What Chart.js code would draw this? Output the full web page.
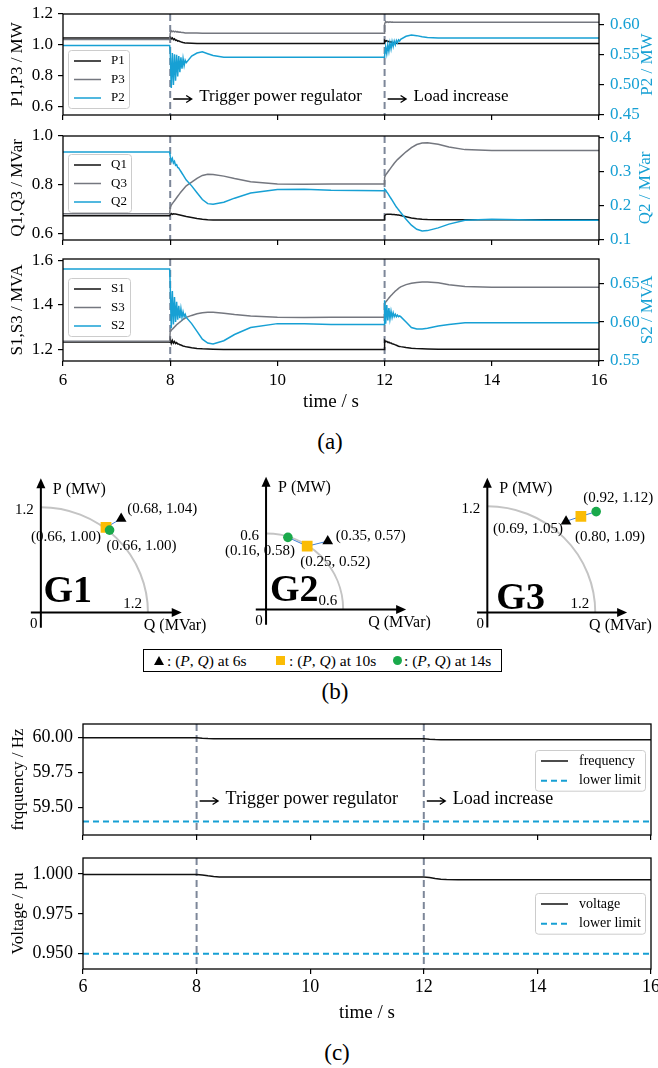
<!DOCTYPE html>
<html>
<head>
<meta charset="utf-8">
<title>Power regulator test</title>
<script src="https://cdn.jsdelivr.net/npm/chart.js@4.4.1/dist/chart.umd.min.js"></script>
<style>
  html, body { margin: 0; padding: 0; background: #fff; }
  body { position: relative; width: 658px; height: 1068px; overflow: hidden;
         font-family: 'Liberation Serif', 'Times New Roman', serif; color: #000; }
  canvas { position: absolute; }
  .cap { position: absolute; width: 60px; text-align: center; font-size: 23px; line-height: 24px; }
  #pqLegend { position: absolute; left: 143px; top: 649px; width: 357px; height: 21px;
              border: 1px solid #000; font-size: 15.5px; }
  #pqLegend .txt { position: absolute; top: 0; line-height: 21px; white-space: nowrap; }
  #pqLegend .mk { position: absolute; }
  .tri { top: 6px; width: 0; height: 0; border-left: 5px solid transparent;
         border-right: 5px solid transparent; border-bottom: 9px solid #000; }
  .sq { top: 6px; width: 9px; height: 9px; background: #fbbc05; }
  .dot { top: 6px; width: 9px; height: 9px; border-radius: 50%; background: #1aa94b; }
</style>
</head>
<body>
<canvas id="chartP"></canvas>
<canvas id="chartQ"></canvas>
<canvas id="chartS"></canvas>
<div class="cap" style="left:300px;top:430px">(a)</div>
<canvas id="chartG1"></canvas>
<canvas id="chartG2"></canvas>
<canvas id="chartG3"></canvas>
<div id="pqLegend"></div>
<div class="cap" style="left:305px;top:680px">(b)</div>
<canvas id="chartF"></canvas>
<canvas id="chartV"></canvas>
<div class="cap" style="left:307px;top:1041px">(c)</div>

<script>
// ─── panel (a): generator P, Q, S vs time ───────────────────────
const tA = [6, 7.99,
  8.00, 8.02, 8.04, 8.06, 8.08, 8.10, 8.12, 8.14, 8.16, 8.18, 8.20, 8.22, 8.24, 8.26, 8.28, 8.30,
  8.4, 8.5, 8.6, 8.7, 8.8, 9.0, 9.2, 9.5, 10, 10.5, 11, 11.99,
  12.00, 12.02, 12.04, 12.06, 12.08, 12.10, 12.12, 12.14, 12.16, 12.18, 12.20, 12.22, 12.24, 12.26, 12.28, 12.30,
  12.4, 12.5, 12.6, 12.7, 12.8, 13.0, 13.2, 13.5, 14, 15, 16];

const p1 = [1.045, 1.045,
  1.050, 1.040, 1.046, 1.035, 1.040, 1.030, 1.032, 1.025, 1.027, 1.022, 1.020, 1.018, 1.016, 1.015, 1.013, 1.012,
  1.011, 1.010, 1.010, 1.010, 1.010, 1.010, 1.010, 1.010, 1.010, 1.010, 1.010, 1.010,
  1.030, 1.024, 1.028, 1.021, 1.024, 1.018, 1.020, 1.015, 1.016, 1.013, 1.012, 1.011, 1.010, 1.010, 1.010, 1.010,
  1.010, 1.010, 1.010, 1.010, 1.010, 1.010, 1.010, 1.010, 1.010, 1.010, 1.010];
const p3 = [1.035, 1.035,
  1.075, 1.092, 1.086, 1.090, 1.085, 1.088, 1.084, 1.086, 1.083, 1.084, 1.082, 1.081, 1.080, 1.079, 1.078, 1.078,
  1.077, 1.077, 1.076, 1.076, 1.076, 1.076, 1.076, 1.076, 1.076, 1.076, 1.076, 1.076,
  1.135, 1.152, 1.146, 1.150, 1.146, 1.149, 1.147, 1.148, 1.147, 1.147, 1.146, 1.146, 1.146, 1.146, 1.146, 1.146,
  1.146, 1.146, 1.146, 1.146, 1.146, 1.146, 1.146, 1.146, 1.146, 1.146, 1.146];
const p2 = [0.5655, 0.5655,
  0.556, 0.495, 0.553, 0.500, 0.551, 0.507, 0.550, 0.514, 0.548, 0.521, 0.546, 0.527, 0.544, 0.532, 0.541, 0.537,
  0.548, 0.553, 0.555, 0.552, 0.549, 0.546, 0.546, 0.546, 0.546, 0.546, 0.546, 0.546,
  0.549, 0.563, 0.552, 0.567, 0.556, 0.570, 0.560, 0.572, 0.564, 0.573, 0.567, 0.574, 0.570, 0.575, 0.573, 0.576,
  0.581, 0.583, 0.582, 0.580, 0.579, 0.578, 0.578, 0.578, 0.578, 0.578, 0.578];

const q1 = [0.672, 0.672,
  0.676, 0.681, 0.678, 0.680, 0.679, 0.679, 0.678, 0.677, 0.676, 0.675, 0.674, 0.673, 0.672, 0.671, 0.670, 0.669,
  0.665, 0.661, 0.658, 0.656, 0.655, 0.655, 0.655, 0.655, 0.655, 0.655, 0.655, 0.655,
  0.672, 0.677, 0.678, 0.678, 0.678, 0.678, 0.678, 0.677, 0.677, 0.677, 0.676, 0.676, 0.675, 0.675, 0.674, 0.673,
  0.668, 0.663, 0.660, 0.658, 0.657, 0.656, 0.656, 0.656, 0.656, 0.656, 0.656];
const q3 = [0.680, 0.680,
  0.705, 0.716, 0.722, 0.728, 0.734, 0.740, 0.746, 0.752, 0.758, 0.764, 0.770, 0.775, 0.780, 0.785, 0.790, 0.795,
  0.810, 0.826, 0.838, 0.843, 0.842, 0.835, 0.825, 0.812, 0.803, 0.802, 0.803, 0.803,
  0.830, 0.840, 0.846, 0.852, 0.858, 0.864, 0.870, 0.876, 0.882, 0.888, 0.893, 0.898, 0.903, 0.907, 0.911, 0.915,
  0.935, 0.952, 0.965, 0.971, 0.972, 0.966, 0.955, 0.944, 0.940, 0.940, 0.940];
const q2 = [0.357, 0.357,
  0.345, 0.330, 0.338, 0.325, 0.330, 0.318, 0.320, 0.312, 0.310, 0.305, 0.300, 0.295, 0.290, 0.285, 0.280, 0.275,
  0.258, 0.238, 0.218, 0.206, 0.204, 0.210, 0.222, 0.237, 0.247, 0.248, 0.245, 0.244,
  0.248, 0.245, 0.240, 0.236, 0.231, 0.226, 0.221, 0.216, 0.211, 0.206, 0.201, 0.196, 0.192, 0.188, 0.184, 0.180,
  0.160, 0.143, 0.131, 0.126, 0.127, 0.135, 0.146, 0.157, 0.160, 0.157, 0.157];

const s1 = [1.233, 1.233,
  1.245, 1.226, 1.240, 1.228, 1.235, 1.226, 1.230, 1.224, 1.224, 1.220, 1.219, 1.217, 1.215, 1.214, 1.212, 1.211,
  1.207, 1.204, 1.202, 1.201, 1.200, 1.199, 1.199, 1.199, 1.199, 1.199, 1.199, 1.199,
  1.240, 1.234, 1.236, 1.231, 1.232, 1.228, 1.228, 1.225, 1.224, 1.222, 1.220, 1.218, 1.216, 1.214, 1.213, 1.212,
  1.208, 1.205, 1.203, 1.202, 1.201, 1.200, 1.200, 1.200, 1.200, 1.200, 1.200];
const s3 = [1.236, 1.236,
  1.279, 1.285, 1.290, 1.295, 1.300, 1.305, 1.310, 1.314, 1.318, 1.322, 1.326, 1.330, 1.334, 1.337, 1.340, 1.343,
  1.352, 1.359, 1.364, 1.366, 1.366, 1.362, 1.356, 1.349, 1.344, 1.343, 1.344, 1.344,
  1.405, 1.412, 1.418, 1.424, 1.430, 1.436, 1.441, 1.446, 1.451, 1.456, 1.461, 1.465, 1.469, 1.473, 1.477, 1.480,
  1.490, 1.496, 1.500, 1.502, 1.502, 1.498, 1.490, 1.482, 1.478, 1.478, 1.478];
const s2 = [0.668, 0.668,
  0.648, 0.592, 0.640, 0.597, 0.632, 0.600, 0.626, 0.603, 0.621, 0.605, 0.617, 0.606, 0.613, 0.607, 0.610, 0.606,
  0.598, 0.588, 0.578, 0.573, 0.572, 0.576, 0.584, 0.593, 0.598, 0.598, 0.597, 0.597,
  0.628, 0.598, 0.622, 0.602, 0.618, 0.604, 0.614, 0.606, 0.612, 0.607, 0.610, 0.607, 0.609, 0.607, 0.608, 0.607,
  0.600, 0.593, 0.591, 0.591, 0.592, 0.595, 0.597, 0.599, 0.599, 0.599, 0.599];

const ticksP = [0.6, 0.8, 1.0, 1.2];
const ticksP2 = [0.45, 0.50, 0.55, 0.60];
const ticksQ = [0.6, 0.8, 1.0];
const ticksQ2 = [0.1, 0.2, 0.3, 0.4];
const ticksS = [1.2, 1.4, 1.6];
const ticksS2 = [0.55, 0.60, 0.65];
const timeTicks = [6, 8, 10, 12, 14, 16];
const eventTimes = [8, 12];
const eventNotes = ['Trigger power regulator', 'Load increase'];

// ─── panel (b): operating points on the capability arcs ─────────
const g1Q = [0.90, 0.73, 0.77];
const g1P = [1.07, 0.97, 0.94];
const g1Text = ['(0.68, 1.04)', '(0.66, 1.00)', '(0.66, 1.00)'];
const g2Q = [0.48, 0.32, 0.17];
const g2P = [0.54, 0.50, 0.57];
const g2Text = ['(0.35, 0.57)', '(0.25, 0.52)', '(0.16, 0.58)'];
const g3Q = [0.875, 1.04, 1.21];
const g3P = [1.03, 1.086, 1.14];
const g3Text = ['(0.69, 1.05)', '(0.80, 1.09)', '(0.92, 1.12)'];
const gRatings = [1.2, 0.6, 1.2];
const gNames = ['G1', 'G2', 'G3'];
const snapTimes = ['6s', '10s', '14s'];

// ─── panel (c): frequency and voltage ───────────────────────────
const tC = [6, 8, 8.1, 8.2, 8.3, 8.4, 8.6, 12, 12.1, 12.2, 12.3, 12.4, 12.6, 16];
const freq = [60.000, 60.000, 59.996, 59.994, 59.993, 59.993, 59.993, 59.993, 59.989, 59.987, 59.986, 59.985, 59.985, 59.985];
const volt = [0.9996, 0.9996, 0.9993, 0.9988, 0.9984, 0.9981, 0.9981, 0.9981, 0.9977, 0.9971, 0.9967, 0.9965, 0.9964, 0.9964];
const freqLimit = 59.4;
const voltLimit = 0.95;
const ticksF = [59.50, 59.75, 60.00];
const ticksV = [0.950, 0.975, 1.000];

// ─── styling ────────────────────────────────────────────────────
const SERIF = "'Liberation Serif', 'Times New Roman', serif";
const BLACK = '#111111';
const GRAY = '#74777f';
const BLUE = '#17a0d4';
const EVENT = '#7d8799';

Chart.defaults.font.family = SERIF;
Chart.defaults.color = '#000';
Chart.defaults.animation = false;

const pts = (xs, ys) => xs.map((x, i) => ({ x, y: ys[i] }));

function place(id, left, top, w, h) {
  const cv = document.getElementById(id);
  cv.width = w; cv.height = h;
  cv.style.left = left + 'px'; cv.style.top = top + 'px';
  cv.style.width = w + 'px'; cv.style.height = h + 'px';
  return cv;
}

function series(label, xs, ys, color, axis, order, extra) {
  return Object.assign({
    label, data: pts(xs, ys), showLine: true, borderColor: color, backgroundColor: color,
    borderWidth: 1.5, pointRadius: 0, yAxisID: axis, order
  }, extra || {});
}

// frame, event lines, right-hand title, notes and in-plot legend
const decoPlugin = {
  id: 'deco',
  beforeDatasetsDraw(chart) {
    const { ctx, chartArea: a, scales } = chart;
    ctx.save();
    ctx.strokeStyle = EVENT; ctx.lineWidth = 2; ctx.setLineDash([7, 4]);
    eventTimes.forEach(t => {
      const px = scales.x.getPixelForValue(t);
      ctx.beginPath(); ctx.moveTo(px, a.top); ctx.lineTo(px, a.bottom); ctx.stroke();
    });
    ctx.restore();
  },
  afterDatasetsDraw(chart, args, o) {
    const { ctx, chartArea: a, scales } = chart;
    ctx.save();
    ctx.strokeStyle = '#000'; ctx.lineWidth = 1.3;
    ctx.strokeRect(a.left, a.top, a.right - a.left, a.bottom - a.top);

    if (o.rightTitle) {
      ctx.save();
      ctx.translate(o.rightTitleX, (a.top + a.bottom) / 2);
      ctx.rotate(-Math.PI / 2);
      ctx.font = `17px ${SERIF}`; ctx.fillStyle = BLUE;
      ctx.textAlign = 'center'; ctx.textBaseline = 'middle';
      ctx.fillText(o.rightTitle, 0, 0);
      ctx.restore();
    }

    if (o.noteY !== undefined) {
      ctx.font = `${o.noteSize}px ${SERIF}`; ctx.fillStyle = '#000';
      ctx.strokeStyle = '#000'; ctx.lineWidth = 1.3;
      ctx.textAlign = 'left'; ctx.textBaseline = 'middle';
      eventTimes.forEach((t, i) => {
        const px = scales.x.getPixelForValue(t);
        const ay = o.noteY + 2;
        ctx.beginPath(); ctx.moveTo(px + 3, ay); ctx.lineTo(px + 21, ay);
        ctx.moveTo(px + 16, ay - 3.5); ctx.lineTo(px + 21.5, ay); ctx.lineTo(px + 16, ay + 3.5);
        ctx.stroke();
        ctx.fillText(eventNotes[i], px + 29, o.noteY);
      });
    }

    const L = o.legend;
    if (L) {
      const n = L.rows.length;
      const h = 11 + L.gap * (n - 1) + 10;
      ctx.fillStyle = 'rgba(255,255,255,0.85)'; ctx.strokeStyle = '#cccccc'; ctx.lineWidth = 1;
      ctx.beginPath();
      ctx.roundRect(L.left + 0.5, L.top + 0.5, L.width, h, 3);
      ctx.fill(); ctx.stroke();
      ctx.font = `${L.size}px ${SERIF}`; ctx.textBaseline = 'middle'; ctx.textAlign = 'left';
      L.rows.forEach((di, r) => {
        const ds = chart.data.datasets[di];
        const yy = L.top + 11 + r * L.gap;
        ctx.strokeStyle = ds.borderColor; ctx.lineWidth = ds.borderWidth;
        ctx.setLineDash(ds.borderDash ? [6, 4] : []);
        ctx.beginPath(); ctx.moveTo(L.left + 6, yy); ctx.lineTo(L.left + 33, yy); ctx.stroke();
        ctx.setLineDash([]);
        ctx.fillStyle = '#000';
        ctx.fillText(ds.label, L.left + L.textX, yy);
      });
    }
    ctx.restore();
  }
};

function xScale(o) {
  return {
    type: 'linear', min: 6, max: 16, position: 'bottom', bounds: 'data',
    afterBuildTicks: s => { s.ticks = timeTicks.map(v => ({ value: v })); },
    afterFit: s => { s.height = o.h; s.paddingLeft = 0; s.paddingRight = 0; },
    ticks: { display: !!o.labels, font: { size: o.size || 17 }, color: '#000', padding: o.pad || 0, maxRotation: 0 },
    grid: { drawOnChartArea: false, tickLength: 5, color: '#000', lineWidth: 1.2 },
    border: { display: false },
    title: { display: !!o.labels, text: 'time / s', color: '#000', font: { size: 19 },
             padding: { top: 0, bottom: o.titlePad || 0 } }
  };
}

function yScale(o) {
  const left = o.pos === 'left';
  return {
    type: 'linear', position: o.pos, min: o.min, max: o.max, bounds: 'data',
    afterBuildTicks: s => { s.ticks = o.ticks.map(v => ({ value: v })); },
    afterFit: s => { s.width = o.w; s.paddingTop = 0; s.paddingBottom = 0; },
    ticks: { color: o.color || '#000', font: { size: o.size || 17 }, padding: o.pad,
             callback: v => Number(v).toFixed(o.dec) },
    grid: { drawOnChartArea: false, tickLength: 5, color: '#000', lineWidth: 1.2 },
    border: { display: false },
    title: { display: left, text: o.title || '', color: '#000', font: { size: 17 },
             padding: { top: o.titlePad || 0, bottom: 0 } }
  };
}

function timeChart(id, box, cfg) {
  const cv = place(id, box[0], box[1], box[2], box[3]);
  return new Chart(cv, {
    type: 'scatter',
    data: { datasets: cfg.datasets },
    options: {
      responsive: false, animation: false, events: [],
      layout: { padding: { top: cfg.padTop, right: cfg.padRight || 0, left: 0, bottom: 0 } },
      plugins: { legend: { display: false }, tooltip: { enabled: false }, deco: cfg.deco },
      scales: cfg.scales
    },
    plugins: [decoPlugin]
  });
}

// ─── (a) P ──────────────────────────────────────────────────────
timeChart('chartP', [0, 0, 658, 125], {
  padTop: 14,
  datasets: [
    series('P1', tA, p1, BLACK, 'y', 3),
    series('P3', tA, p3, GRAY, 'y', 2),
    series('P2', tA, p2, BLUE, 'y1', 1)
  ],
  scales: {
    x: xScale({ h: 10 }),
    y: yScale({ pos: 'left', min: 0.548, max: 1.2, ticks: ticksP, dec: 1, w: 63, pad: 5, title: 'P1,P3 / MW', titlePad: 7 }),
    y1: yScale({ pos: 'right', min: 0.45, max: 0.618, ticks: ticksP2, dec: 2, w: 59, pad: 6, color: BLUE })
  },
  deco: { rightTitle: 'P2 / MW', rightTitleX: 648, noteY: 97, noteSize: 17,
          legend: { left: 68, top: 50, width: 61, gap: 18.5, size: 13, textX: 43, rows: [0, 1, 2] } }
});

// ─── (a) Q ──────────────────────────────────────────────────────
timeChart('chartQ', [0, 125, 658, 125], {
  padTop: 11,
  datasets: [
    series('Q1', tA, q1, BLACK, 'y', 3),
    series('Q3', tA, q3, GRAY, 'y', 2),
    series('Q2', tA, q2, BLUE, 'y1', 1)
  ],
  scales: {
    x: xScale({ h: 10 }),
    y: yScale({ pos: 'left', min: 0.5724, max: 1.0, ticks: ticksQ, dec: 1, w: 63, pad: 5, title: 'Q1,Q3 / MVar', titlePad: 7 }),
    y1: yScale({ pos: 'right', min: 0.0995, max: 0.404, ticks: ticksQ2, dec: 1, w: 59, pad: 6, color: BLUE })
  },
  deco: { rightTitle: 'Q2 / MVar', rightTitleX: 646,
          legend: { left: 68, top: 29, width: 63, gap: 18.5, size: 13, textX: 43, rows: [0, 1, 2] } }
});

// ─── (a) S ──────────────────────────────────────────────────────
timeChart('chartS', [0, 250, 658, 163], {
  padTop: 9,
  datasets: [
    series('S1', tA, s1, BLACK, 'y', 3),
    series('S3', tA, s3, GRAY, 'y', 2),
    series('S2', tA, s2, BLUE, 'y1', 1)
  ],
  scales: {
    x: xScale({ h: 52, labels: true, size: 17, pad: 4, titlePad: 0 }),
    y: yScale({ pos: 'left', min: 1.1475, max: 1.605, ticks: ticksS, dec: 1, w: 63, pad: 5, title: 'S1,S3 / MVA', titlePad: 7 }),
    y1: yScale({ pos: 'right', min: 0.55, max: 0.681, ticks: ticksS2, dec: 2, w: 59, pad: 6, color: BLUE })
  },
  deco: { rightTitle: 'S2 / MVA', rightTitleX: 648,
          legend: { left: 68, top: 28, width: 62, gap: 18.5, size: 13, textX: 43, rows: [0, 1, 2] } }
});

// ─── (b) capability diagrams ────────────────────────────────────
const gPlugin = {
  id: 'gdeco',
  beforeDatasetsDraw(chart, args, o) {
    const { ctx, scales: { x, y } } = chart;
    const ox = x.getPixelForValue(0), oy = y.getPixelForValue(0);
    const rx = x.getPixelForValue(o.rating) - ox, ry = oy - y.getPixelForValue(o.rating);
    ctx.save();
    ctx.strokeStyle = '#c4c4c4'; ctx.lineWidth = 2;
    ctx.beginPath(); ctx.ellipse(ox, oy, rx, ry, 0, -Math.PI / 2, 0); ctx.stroke();
    const xa = x.getPixelForValue(o.axes[0]), xb = x.getPixelForValue(o.axes[1]);
    const ya = y.getPixelForValue(o.axes[2]), yb = y.getPixelForValue(o.axes[3]);
    ctx.strokeStyle = '#000'; ctx.fillStyle = '#000'; ctx.lineWidth = 2;
    ctx.beginPath();
    ctx.moveTo(xa, oy); ctx.lineTo(xb - 8, oy);
    ctx.moveTo(ox, ya); ctx.lineTo(ox, yb + 8);
    ctx.stroke();
    ctx.beginPath(); ctx.moveTo(xb, oy); ctx.lineTo(xb - 10, oy - 4.5); ctx.lineTo(xb - 10, oy + 4.5); ctx.closePath(); ctx.fill();
    ctx.beginPath(); ctx.moveTo(ox, yb); ctx.lineTo(ox - 4.5, yb + 10); ctx.lineTo(ox + 4.5, yb + 10); ctx.closePath(); ctx.fill();
    ctx.restore();
  },
  afterDatasetsDraw(chart, args, o) {
    const { ctx, scales: { x, y } } = chart;
    const ox = x.getPixelForValue(0), oy = y.getPixelForValue(0);
    const xb = x.getPixelForValue(o.axes[1]), yb = y.getPixelForValue(o.axes[3]);
    ctx.save();
    ctx.fillStyle = '#000'; ctx.textBaseline = 'middle';
    ctx.font = `16px ${SERIF}`; ctx.textAlign = 'left';
    ctx.fillText('P (MW)', ox + 12, yb + 11);
    ctx.fillText('Q (MVar)', xb - 38, oy + 13);
    ctx.font = `15px ${SERIF}`;
    ctx.textAlign = 'center';
    ctx.fillText('0', ox - 7, oy + 12);
    ctx.textAlign = 'right';
    const rl = o.rating.toFixed(1);
    ctx.fillText(rl, ox - 7, y.getPixelForValue(o.rating) + 3);
    ctx.fillText(rl, x.getPixelForValue(o.rating) - 6, oy - 8);
    const meta = chart.getDatasetMeta(1);
    o.texts.forEach((t, i) => {
      const el = meta.data[i];
      const off = o.offsets[i];
      ctx.textAlign = off[2];
      ctx.fillText(t, el.x + off[0], el.y + off[1]);
    });
    ctx.font = `bold 38px ${SERIF}`; ctx.textAlign = 'left'; ctx.textBaseline = 'alphabetic';
    ctx.fillText(o.name, ox + o.nameOff[0], oy + o.nameOff[1]);
    ctx.restore();
  }
};

function gChart(id, box, view, qs, ps, cfg) {
  const cv = place(id, box[0], box[1], box[2], box[3]);
  return new Chart(cv, {
    type: 'scatter',
    data: {
      datasets: [
        { data: pts(qs, ps), showLine: true, borderColor: '#3f7fd6', borderWidth: 1, pointRadius: 0, order: 2 },
        { data: pts(qs, ps), pointStyle: ['triangle', 'rect', 'circle'], pointRadius: [6.2, 7.6, 4.8],
          backgroundColor: ['#000000', '#fbbc05', '#1aa94b'], borderWidth: 0, order: 1 }
      ]
    },
    options: {
      responsive: false, animation: false, events: [],
      layout: { padding: 0 },
      plugins: { legend: { display: false }, tooltip: { enabled: false }, gdeco: cfg },
      scales: {
        x: { type: 'linear', display: false, min: view[0], max: view[1] },
        y: { type: 'linear', display: false, min: view[2], max: view[3] }
      }
    },
    plugins: [gPlugin]
  });
}

gChart('chartG1', [0, 460, 222, 180], [-0.3727, 1.9447, -0.2265, 1.6524], g1Q, g1P, {
  rating: gRatings[0], name: gNames[0], texts: g1Text, axes: [-0.112, 1.579, -0.174, 1.53],
  nameOff: [2.6, -10.6], offsets: [[6, -10, 'left'], [-5, 10, 'right'], [-3, 16, 'left']]
});
gChart('chartG2', [225, 460, 215, 180], [-0.2603, 1.2943, -0.1808, 1.1208], g2Q, g2P, {
  rating: gRatings[1], name: gNames[1], texts: g2Text, axes: [-0.08, 1.09, -0.12, 1.048],
  nameOff: [4, -8.3], offsets: [[8, -5, 'left'], [-7, 16, 'left'], [7, 14, 'right']]
});
gChart('chartG3', [440, 460, 218, 180], [-0.4416, 1.8128, -0.2244, 1.637], g3Q, g3P, {
  rating: gRatings[2], name: gNames[2], texts: g3Text, axes: [-0.114, 1.554, -0.17, 1.523],
  nameOff: [9, -4], offsets: [[-3, 8, 'right'], [-6, 21, 'left'], [-13, -14, 'left']]
});

// legend of (b)
const pqLegend = document.getElementById('pqLegend');
const markClass = ['tri', 'sq', 'dot'];
const markLeft = [10, 132, 249];
const textLeft = [23, 145, 260];
snapTimes.forEach((t, i) => {
  const mk = document.createElement('span');
  mk.className = 'mk ' + markClass[i];
  mk.style.left = markLeft[i] + 'px';
  pqLegend.appendChild(mk);
  const tx = document.createElement('span');
  tx.className = 'txt';
  tx.style.left = textLeft[i] + 'px';
  tx.innerHTML = ': (<i>P</i>, <i>Q</i>) at ' + t;
  pqLegend.appendChild(tx);
});

// ─── (c) frequency ──────────────────────────────────────────────
timeChart('chartF', [0, 710, 658, 135], {
  padTop: 14, padRight: 7,
  datasets: [
    series('frequency', tC, freq, BLACK, 'y', 2),
    series('lower limit', [timeTicks[0], timeTicks[timeTicks.length - 1]], [freqLimit, freqLimit], BLUE, 'y', 1,
           { borderDash: [6, 4], borderWidth: 2 })
  ],
  scales: {
    x: xScale({ h: 10 }),
    y: yScale({ pos: 'left', min: 59.303, max: 60.098, ticks: ticksF, dec: 2, w: 83, pad: 5, size: 18,
                title: 'frqquency / Hz', titlePad: 8 })
  },
  deco: { noteY: 89, noteSize: 18,
          legend: { left: 535, top: 40, width: 110, gap: 19.7, size: 14, textX: 44, rows: [0, 1] } }
});

// ─── (c) voltage ────────────────────────────────────────────────
timeChart('chartV', [0, 845, 658, 181], {
  padTop: 13, padRight: 7,
  datasets: [
    series('voltage', tC, volt, BLACK, 'y', 2),
    series('lower limit', [timeTicks[0], timeTicks[timeTicks.length - 1]], [voltLimit, voltLimit], BLUE, 'y', 1,
           { borderDash: [6, 4], borderWidth: 2 })
  ],
  scales: {
    x: xScale({ h: 57, labels: true, size: 18, pad: 2, titlePad: 1.6 }),
    y: yScale({ pos: 'left', min: 0.9404, max: 1.010, ticks: ticksV, dec: 3, w: 83, pad: 5, size: 18,
                title: 'Voltage / pu', titlePad: 8 })
  },
  deco: { legend: { left: 535, top: 48, width: 110, gap: 19.7, size: 14, textX: 44, rows: [0, 1] } }
});
</script>
</body>
</html>
